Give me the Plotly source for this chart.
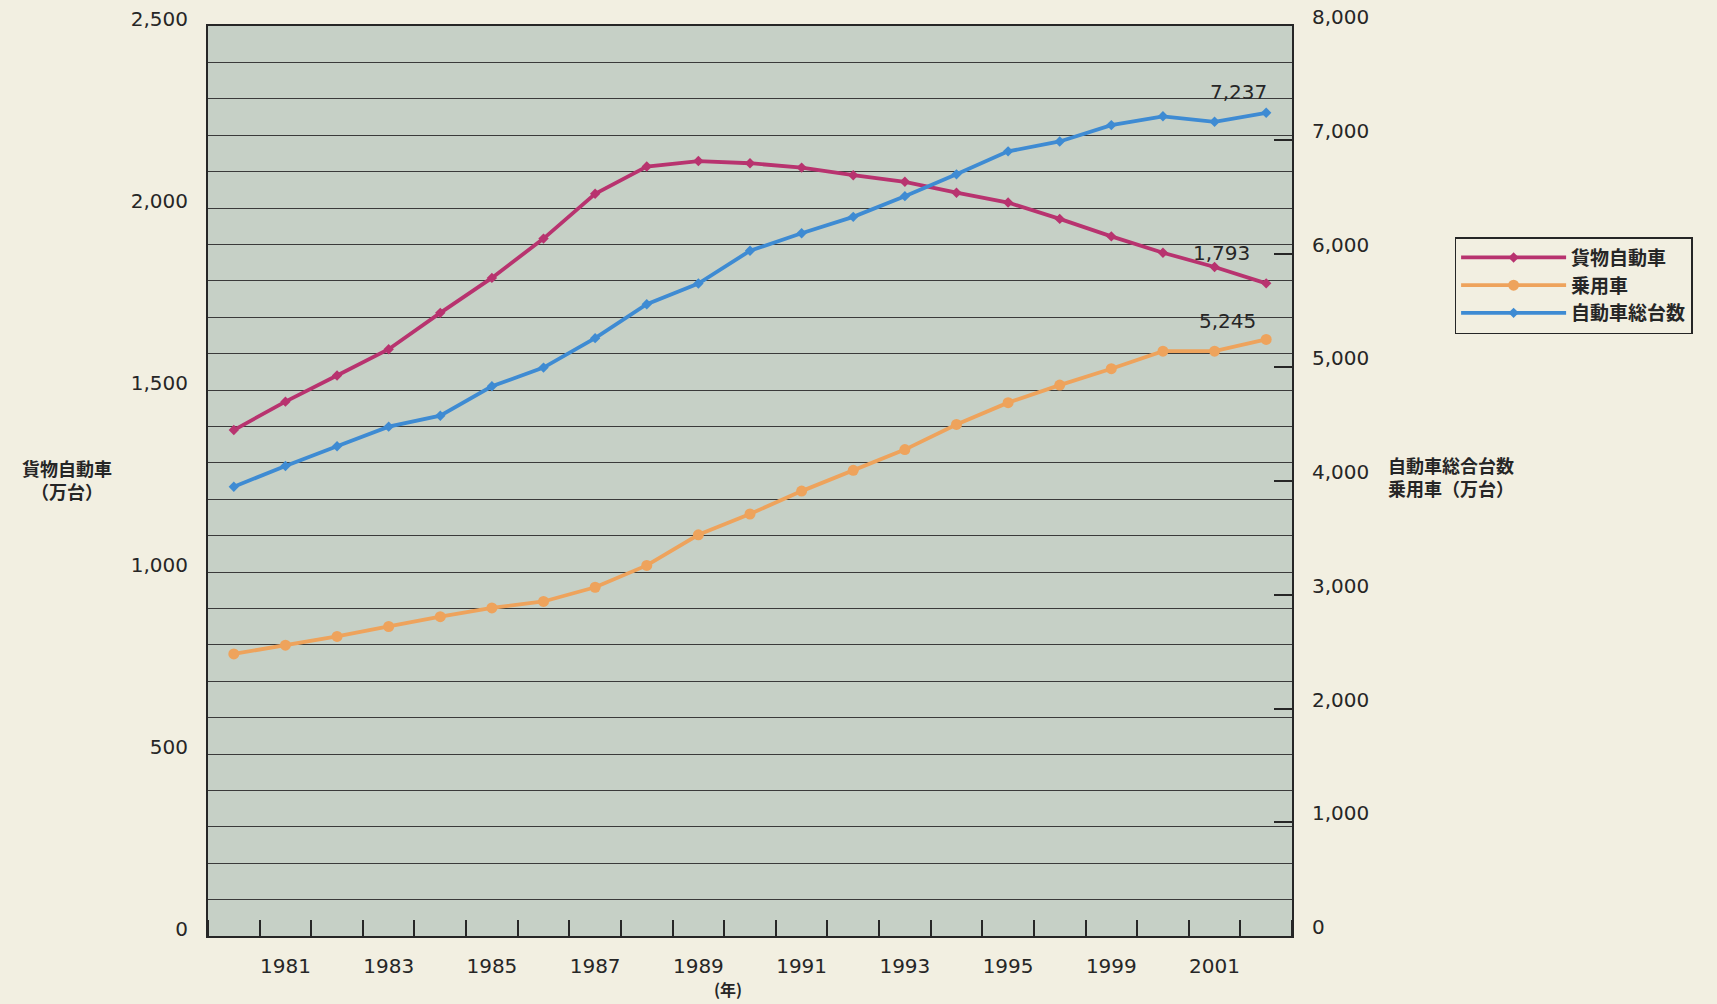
import plotly.graph_objects as go

years = list(range(1980, 2001))
tick_years = [1981, 1983, 1985, 1987, 1989, 1991, 1993, 1995, 1997, 1999]
tick_labels = ["1981", "1983", "1985", "1987", "1989", "1991", "1993", "1995", "1999", "2001"]

# 貨物自動車 (left axis, 万台)
trucks = [1390, 1468, 1540, 1612, 1712, 1808, 1916, 2039, 2114, 2129, 2123, 2111,
          2090, 2072, 2042, 2015, 1970, 1922, 1877, 1838, 1793]
# 乗用車 (right axis, 万台)
cars = [2480, 2557, 2634, 2721, 2807, 2884, 2941, 3066, 3258, 3527, 3710, 3911,
        4094, 4276, 4497, 4689, 4843, 4987, 5141, 5141, 5245]
# 自動車総台数 (right axis, 万台)
total = [3950, 4132, 4305, 4478, 4574, 4833, 4997, 5256, 5554, 5736, 6024, 6178,
         6322, 6504, 6696, 6898, 6985, 7129, 7206, 7158, 7237]

left_ticks = [0, 500, 1000, 1500, 2000, 2500]
right_ticks = [0, 1000, 2000, 3000, 4000, 5000, 6000, 7000, 8000]

PAGE = "#f2efe1"
PLOT = "#c6d0c6"
INK = "#262626"
MAGENTA = "#b8336f"
ORANGE = "#eea35c"
BLUE = "#3e8bd3"
NUMFONT = dict(family="DejaVu Sans", size=20, color=INK)
JPFONT = dict(family="Noto Sans CJK JP", size=18, color=INK, weight="bold")

fig = go.Figure()
fig.add_trace(go.Scatter(x=years, y=trucks, name="貨物自動車", mode="lines+markers",
                         line=dict(color=MAGENTA, width=3.8),
                         marker=dict(color=MAGENTA, size=8, symbol="diamond"),
                         yaxis="y"))
fig.add_trace(go.Scatter(x=years, y=cars, name="乗用車", mode="lines+markers",
                         line=dict(color=ORANGE, width=3.8),
                         marker=dict(color=ORANGE, size=11, symbol="circle"),
                         yaxis="y2"))
fig.add_trace(go.Scatter(x=years, y=total, name="自動車総台数", mode="lines+markers",
                         line=dict(color=BLUE, width=3.8),
                         marker=dict(color=BLUE, size=8, symbol="diamond"),
                         yaxis="y2"))

fig.add_annotation(x=years[-1], y=total[-1], yref="y2", text=f"{total[-1]:,}",
                   showarrow=False, xshift=-28, yshift=21, font=NUMFONT)
fig.add_annotation(x=years[-1], y=trucks[-1], yref="y", text=f"{trucks[-1]:,}",
                   showarrow=False, xshift=-45, yshift=30, font=NUMFONT)
fig.add_annotation(x=years[-1], y=trucks[-1] * 0 + cars[-1], yref="y2", text=f"{cars[-1]:,}",
                   showarrow=False, xshift=-39, yshift=18, font=NUMFONT)

fig.add_annotation(xref="paper", yref="paper", x=-0.130, y=0.502,
                   xanchor="center", yanchor="middle",
                   text="貨物自動車<br>（万台）", showarrow=False, align="center",
                   font=JPFONT)
fig.add_annotation(xref="paper", yref="paper", x=1.087, y=0.505,
                   xanchor="left", yanchor="middle",
                   text="自動車総合台数<br>乗用車（万台）", showarrow=False, align="left",
                   font=JPFONT)
fig.add_annotation(xref="paper", yref="paper", x=0.48, y=-0.058,
                   xanchor="center", yanchor="middle",
                   text="(年)", showarrow=False,
                   font=dict(family="Noto Sans CJK JP", size=16, color=INK, weight="bold"))

fig.update_layout(
    width=1717, height=1004,
    paper_bgcolor=PAGE, plot_bgcolor=PLOT,
    margin=dict(l=208, r=425, t=26, b=68, autoexpand=False),
    showlegend=True,
    legend=dict(x=1.150, y=0.768, xanchor="left", yanchor="top",
                bgcolor=PAGE, bordercolor=INK, borderwidth=1.5,
                font=dict(family="Noto Sans CJK JP", size=19, color=INK, weight="bold"),
                itemwidth=105, tracegroupgap=0),
    xaxis=dict(range=[1979.5, 2000.5], tickmode="array", tickvals=tick_years,
               ticktext=tick_labels, ticks="", showgrid=False, zeroline=False,
               showline=True, linecolor=INK, linewidth=2, mirror=True,
               tickfont=NUMFONT, ticklabelstandoff=11, automargin=False,
               minor=dict(ticks="inside", ticklen=16, tickwidth=1.5, tickcolor=INK,
                          tick0=1980.5, dtick=1, showgrid=False)),
    yaxis=dict(range=[0, 2500], tickmode="array", tickvals=left_ticks,
               tickformat=",", showgrid=True, gridcolor="#3a3a3a", gridwidth=1.3,
               zeroline=False, showline=True, linecolor=INK, linewidth=2,
               ticks="", tickfont=NUMFONT, ticklabelstandoff=14, ticklabelshift=-7,
               automargin=False,
               minor=dict(dtick=100, tick0=0, showgrid=True, gridcolor="#3a3a3a",
                          gridwidth=1.3)),
    yaxis2=dict(range=[0, 8000], overlaying="y", side="right", tickmode="array",
                tickvals=right_ticks, tickformat=",", showgrid=False, zeroline=False,
                showline=True, linecolor=INK, linewidth=2,
                ticks="inside", ticklen=18, tickwidth=1.5, tickcolor=INK,
                tickfont=NUMFONT, ticklabelstandoff=14, ticklabelshift=-9,
                automargin=False),
)

fig.write_html("out.html", config={"displayModeBar": False},
               post_script="document.body.style.margin='0';document.body.style.overflow='hidden';")
